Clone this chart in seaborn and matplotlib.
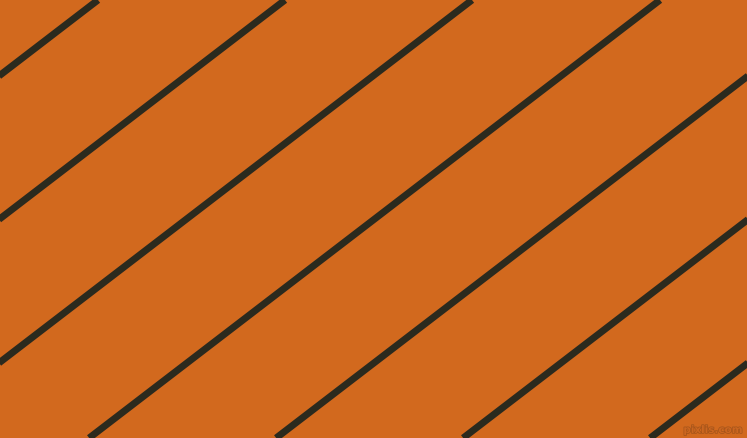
import matplotlib
matplotlib.use("Agg")
import matplotlib.pyplot as plt
import matplotlib.patheffects as pe
import seaborn as sns
import pandas as pd

# x-positions (pixels) where each stripe meets the top edge
top_intercepts = [98, 285, 472, 660, 847, 1034, 1221]
slope = 0.7673  # drop in y per unit x (about 37.5 degrees)
bg_color = "#D2691E"
line_color = "#2B2A1E"

W, H = 747, 438
rows = []
for i, x0 in enumerate(top_intercepts):
    x_bottom = x0 - H / slope
    rows.append({"line": i, "x": x0, "y": 0.0})
    rows.append({"line": i, "x": x_bottom, "y": float(H)})
df = pd.DataFrame(rows)

sns.set_theme(style="white")
fig = plt.figure(figsize=(W / 100, H / 100), dpi=100)
ax = fig.add_axes([0, 0, 1, 1])
ax.set_facecolor(bg_color)
fig.patch.set_facecolor(bg_color)
sns.lineplot(data=df, x="x", y="y", units="line", estimator=None,
             color=line_color, linewidth=5.0, ax=ax, legend=False,
             solid_capstyle="butt")
ax.set_xlim(0, W)
ax.set_ylim(H, 0)
ax.set_axis_off()
ax.text(W - 4, H - 3, "pixlis.com", ha="right", va="bottom", fontsize=7.5,
        color="#CC6620", fontweight="bold",
        path_effects=[pe.withStroke(linewidth=1, foreground="#A4541A")])
fig.savefig("out.png", dpi=100, facecolor=bg_color)
